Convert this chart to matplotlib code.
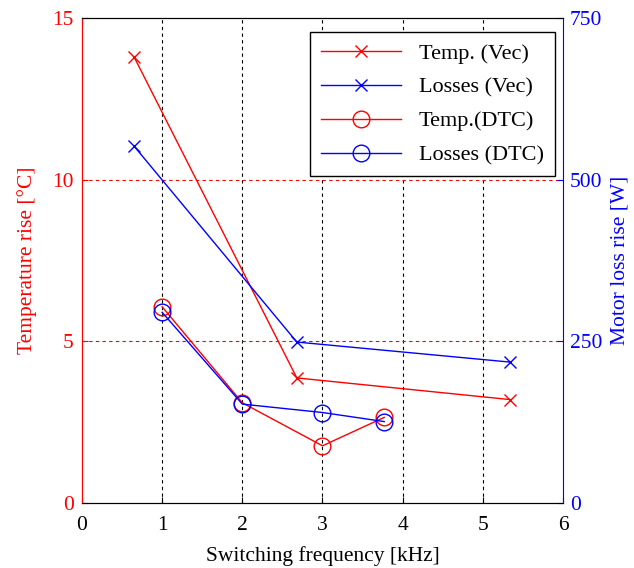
import matplotlib
matplotlib.use("Agg")
import matplotlib.pyplot as plt

plt.rcParams['font.family'] = ['Liberation Serif', 'DejaVu Serif']

freq_vec = [0.65, 2.68, 5.34]
temp_vec = [13.8, 3.87, 3.2]
loss_vec = [552, 249, 218]
freq_dtc = [1.0, 2.0, 3.0, 3.77]
temp_dtc = [6.07, 3.10, 1.77, 2.65]
loss_dtc = [295, 153, 140, 126]

fig = plt.figure(figsize=(6.34, 5.68), dpi=100)
ax = fig.add_axes([0.1293, 0.1144, 0.7587, 0.8536])
ax2 = ax.twinx()

ax.set_xlim(0, 6)
ax.set_ylim(0, 15)
ax2.set_ylim(0, 750)
ax.set_xticks(range(0, 7))
ax.set_yticks([0, 5, 10, 15])
ax2.set_yticks([0, 250, 500, 750])

for x in range(1, 6):
    ax.axvline(x, color='black', ls=(0, (3, 3)), lw=0.8, zorder=0)
for y in [5, 10]:
    ax.axhline(y, color='red', ls=(0, (3, 3)), lw=0.8, zorder=0)

l1, = ax.plot(freq_vec, temp_vec, color='red', marker='x', ms=8, lw=1, label='Temp. (Vec)')
l3, = ax.plot(freq_dtc, temp_dtc, color='red', marker='o', mfc='none', ms=12, lw=1, label='Temp.(DTC)')
l2, = ax2.plot(freq_vec, loss_vec, color='blue', marker='x', ms=8, lw=1, label='Losses (Vec)')
l4, = ax2.plot(freq_dtc, loss_dtc, color='blue', marker='o', mfc='none', ms=12, lw=1, label='Losses (DTC)')

fs = 15.5
ax.set_xlabel('Switching frequency [kHz]', fontsize=fs, labelpad=8)
ax.set_ylabel('Temperature rise [°C]', fontsize=fs, color='red', labelpad=11)
ax2.set_ylabel('Motor loss rise [W]', fontsize=fs, color='blue', labelpad=6)

ax.tick_params(axis='x', direction='in', labelsize=fs, top=False, length=4, pad=9)
ax.tick_params(axis='y', direction='in', labelsize=fs, colors='red', length=4, pad=6)
ax2.tick_params(axis='y', direction='in', labelsize=fs, colors='blue', length=4, pad=5)

ax.spines['left'].set_color('red')
ax2.spines['left'].set_color('red')
ax2.spines['right'].set_color('blue')
ax.spines['right'].set_visible(False)
for sp in ['top', 'bottom']:
    ax2.spines[sp].set_color('black')

leg = ax2.legend([l1, l2, l3, l4], [l.get_label() for l in [l1, l2, l3, l4]],
                 loc='upper right', bbox_to_anchor=(555 / 634, 1 - 32 / 568),
                 bbox_transform=fig.transFigure,
                 fontsize=16, fancybox=False, framealpha=1,
                 edgecolor='black', borderaxespad=0, handlelength=3.6,
                 labelspacing=0.6, borderpad=0.5)
leg.get_frame().set_linewidth(1.0)

fig.savefig('out.png', dpi=100)
